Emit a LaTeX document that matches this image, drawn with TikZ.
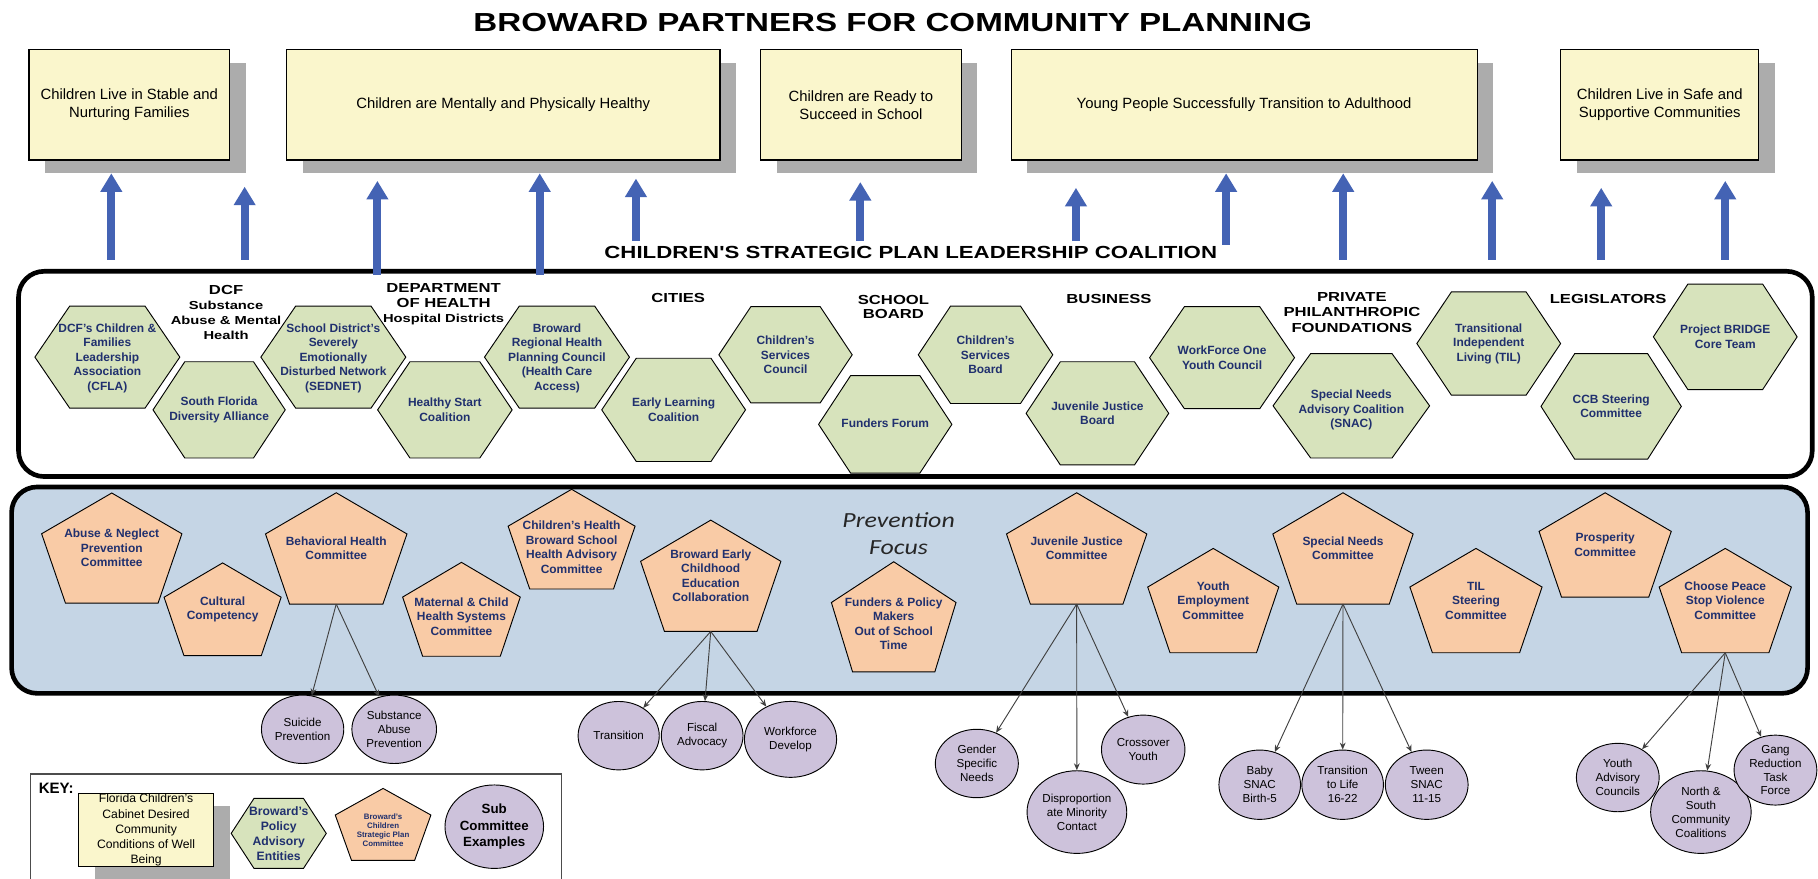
\documentclass[tikz,border=0pt]{standalone}
\usepackage{fontspec}
\setmainfont{Liberation Sans}
\newfontfamily\widefont[FakeStretch=1.27]{Liberation Sans}
\newfontfamily\focusfont[FakeStretch=1.2]{Carlito}
\usetikzlibrary{shapes.geometric,arrows.meta,shadows}
\definecolor{goalyellow}{RGB}{250,246,204}
\definecolor{shadowgray}{RGB}{172,172,172}
\definecolor{arrowblue}{RGB}{68,99,180}
\definecolor{hexgreen}{RGB}{215,227,188}
\definecolor{pentorange}{RGB}{249,203,166}
\definecolor{subviolet}{RGB}{205,194,219}
\definecolor{prevblue}{RGB}{197,213,229}
\definecolor{navy}{RGB}{32,48,110}
\tikzset{
 goal/.style={draw=black, line width=0.9pt, fill=goalyellow, inner sep=0pt, align=center,
   font=\fontsize{12.8}{15.5}\selectfont,
   drop shadow={shadow xshift=14pt, shadow yshift=-11pt, fill=shadowgray, opacity=1}},
 uparrow/.style={draw=arrowblue, line width=7pt, -{Triangle[length=16pt 0,width=18pt 0]}},
 bigframe/.style={draw=black, line width=4pt, rounded corners=22pt, inner sep=0pt},
 hexfill/.style={draw=black, line width=0.8pt, fill=hexgreen},
 htext/.style={text=navy, font=\bfseries\fontsize{10.3}{12.6}\selectfont, align=center, inner sep=0pt},
 hdr/.style={font=\widefont\bfseries\fontsize{11.3}{13}\selectfont, align=center, inner sep=0pt},
 pentfill/.style={draw=black, line width=0.8pt, fill=pentorange},
 ptext/.style={text=navy, font=\bfseries\fontsize{10.3}{12.5}\selectfont, align=center, inner sep=0pt},
 sub/.style={ellipse, draw=black, line width=0.8pt, fill=subviolet, inner sep=-4pt, align=center,
   font=\fontsize{10}{12}\selectfont},
 conn/.style={draw=black!75, line width=0.8pt, -{Stealth[length=6pt 0,width=5pt 0]}},
}
% #1 extra text style, #2 name, #3 cx, #4 cy, #5 w, #6 h, #7 text dy, #8 text
\newcommand\myhex[8][]{%
  \path[hexfill] ({#3-#5/2},{#4}) -- ({#3-0.26*#5},{#4-#6/2}) -- ({#3+0.26*#5},{#4-#6/2})
    -- ({#3+#5/2},{#4}) -- ({#3+0.26*#5},{#4+#6/2}) -- ({#3-0.26*#5},{#4+#6/2}) -- cycle;
  \node[htext,#1] (#2) at ({#3},{#4+#7}) {#8};}
\newcommand\mypent[8][]{%
  \path[pentfill] ({#3},{#4-#6/2}) -- ({#3+#5/2},{#4-0.13*#6}) -- ({#3+0.33*#5},{#4+#6/2})
    -- ({#3-0.33*#5},{#4+#6/2}) -- ({#3-#5/2},{#4-0.13*#6}) -- cycle;
  \coordinate (#2-s) at ({#3},{#4+#6/2});
  \node[ptext,#1] (#2) at ({#3},{#4+#7}) {#8};}
\begin{document}
\begin{tikzpicture}[x=1pt,y=-1pt]
\useasboundingbox (0,0) rectangle (1568,758);
\fill[white] (0,0) rectangle (1568,758);

\node[font=\widefont\bfseries\fontsize{22.5}{25}\selectfont, inner sep=0pt] (title) at (770,19.4)
  {BROWARD PARTNERS FOR COMMUNITY PLANNING};

% goal boxes
\node[goal, minimum width=173, minimum height=95] (g1) at (111.5,90.5) {Children Live in Stable and\\Nurturing Families};
\node[goal, minimum width=374, minimum height=95] (g2) at (434,90.5) {Children are Mentally and Physically Healthy};
\node[goal, minimum width=173, minimum height=95] (g3) at (742.5,90.5) {Children are Ready to\\Succeed in School};
\node[goal, minimum width=402, minimum height=95] (g4) at (1073,90.5) {Young People Successfully Transition to Adulthood};
\node[goal, minimum width=171, minimum height=95] (g5) at (1431.5,90.5) {Children Live in Safe and\\Supportive Communities};

% coalition frame
\node[bigframe, fill=white, minimum width=1547, minimum height=177] (coal) at (789.5,322.5) {};

% arrows
\foreach \i/\x/\yb/\yt in {1/96/224/149.5, 2/211/224/161, 3/325.5/237/156, 4/465.5/237/149.5,
  5/548.5/208/154, 6/742/208/157, 7/928/208/162, 8/1057.5/211/149.5, 9/1158.5/224/149.5,
  10/1287/224/156, 11/1381/224/162, 12/1488/224/156} {
  \coordinate (ab\i) at (\x,\yb);
  \coordinate (at\i) at (\x,\yt);
  \draw[uparrow] (ab\i) -- (at\i);
}

\node[font=\widefont\bfseries\fontsize{15.1}{17}\selectfont, inner sep=0pt] (cslc) at (785.5,217.8)
  {CHILDREN'S STRATEGIC PLAN LEADERSHIP COALITION};

% hexagons
\myhex{H1}{92.6}{308}{125}{88}{1}{DCF's Children \&\\Families\\Leadership\\Association\\(CFLA)}
\myhex{H2}{189}{353.5}{114}{83}{0}{South Florida\\Diversity Alliance}
\myhex{H3}{287.5}{308}{125}{88}{1}{School District's\\Severely\\Emotionally\\Disturbed Network\\(SEDNET)}
\myhex{H4}{383.7}{353.5}{116}{83}{0}{Healthy Start\\Coalition}
\myhex{H5}{480.4}{308}{125}{88}{1}{Broward\\Regional Health\\Planning Council\\(Health Care\\Access)}
\myhex{H6}{581}{353.5}{124}{89}{0}{Early Learning\\Coalition}
\myhex{H7}{677.5}{306}{115}{83}{0}{Children's\\Services\\Council}
\myhex{H8}{763.5}{366}{115}{84}{-1}{Funders Forum}
\myhex{H9}{850}{306}{116}{84}{0}{Children's\\Services\\Board}
\myhex{H10}{946.5}{356.5}{123}{89}{0}{Juvenile Justice\\Board}
\myhex{H11}{1054}{308.5}{125}{88}{0}{WorkForce One\\Youth Council}
\myhex{H12}{1165.5}{350}{135}{90}{3.8}{Special Needs\\Advisory Coalition\\(SNAC)}
\myhex{H13}{1284}{296.3}{124}{89}{0}{Transitional\\Independent\\Living (TIL)}
\myhex{H14}{1389.6}{350.5}{121}{91}{0}{CCB Steering\\Committee}
\myhex{H15}{1488}{290.5}{124}{91}{0}{Project BRIDGE\\Core Team}

% group headers
\node[hdr, font=\widefont\bfseries\fontsize{10}{13}\selectfont] (hdcf) at (195,269.5)
  {{\fontsize{11.3}{13}\selectfont DCF}\\Substance\\Abuse \& Mental\\Health};
\node[hdr] (hdoh) at (382.6,262.5)
  {DEPARTMENT\\OF HEALTH\\{\fontsize{10}{13}\selectfont Hospital Districts}};
\node[hdr] (hcity) at (585,257) {CITIES};
\node[hdr, font=\widefont\bfseries\fontsize{11.3}{12}\selectfont] (hsb) at (770.6,265) {SCHOOL\\BOARD};
\node[hdr] (hbus) at (956.5,258) {BUSINESS};
\node[hdr, font=\widefont\bfseries\fontsize{11.3}{13.5}\selectfont] (hppf) at (1166,269.5) {PRIVATE\\PHILANTHROPIC\\FOUNDATIONS};
\node[hdr] (hleg) at (1387,258) {LEGISLATORS};

% prevention frame
\node[bigframe, fill=prevblue, minimum width=1549, minimum height=178] (prev) at (784.5,509) {};

% pentagons
\mypent{P1}{96.4}{472.7}{121}{95}{0}{Abuse \& Neglect\\Prevention\\Committee}
\mypent{P2}{192}{525.5}{101}{80}{0}{Cultural\\Competency}
\mypent{P3}{290}{473}{122}{96}{0}{Behavioral Health\\Committee}
\mypent{P4}{398}{525.5}{101.5}{81}{6}{Maternal \& Child\\Health Systems\\Committee}
\mypent{P5}{493}{465}{109.5}{86}{7}{Children's Health\\Broward School\\Health Advisory\\Committee}
\mypent{P6}{613}{496.6}{121}{96}{0}{Broward Early\\Childhood\\Education\\Collaboration}
\mypent{P7}{770.8}{532}{107.5}{95}{6}{Funders \& Policy\\Makers\\Out of School\\Time}
\mypent{P8}{928.6}{473}{121}{96}{0}{Juvenile Justice\\Committee}
\mypent{P9}{1046.4}{518}{113}{90}{0}{Youth\\Employment\\Committee}
\mypent{P10}{1158.3}{473}{121}{96}{0}{Special Needs\\Committee}
\mypent{P11}{1273}{518}{114}{90}{0}{TIL\\Steering\\Committee}
\mypent{P12}{1384.4}{470}{114}{90}{0}{Prosperity\\Committee}
\mypent{P13}{1488}{518}{114}{90}{0}{Choose Peace\\Stop Violence\\Committee}

\node[font=\focusfont\itshape\fontsize{18.6}{23}\selectfont, align=center, inner sep=0pt, text=black!85] (focus) at (775,460) {Prevention\\Focus};

% sub committees
\node[sub, minimum width=71, minimum height=59] (C1) at (261,629) {Suicide\\Prevention};
\node[sub, minimum width=73, minimum height=59] (C2) at (340,629) {Substance\\Abuse\\Prevention};
\node[sub, minimum width=70, minimum height=59] (C3) at (533.6,634.5) {Transition};
\node[sub, minimum width=70.5, minimum height=59] (C4) at (605.6,634.5) {Fiscal\\Advocacy};
\node[sub, minimum width=79.5, minimum height=65.5] (C5) at (681.8,637.7) {Workforce\\Develop};
\node[sub, minimum width=71.6, minimum height=59] (C6) at (842.5,658.5) {Gender\\Specific\\Needs};
\node[sub, minimum width=86, minimum height=71.3] (C7) at (928.8,700.4) {Disproportion\\ate Minority\\Contact};
\node[sub, minimum width=72, minimum height=59.5] (C8) at (986,646.5) {Crossover\\Youth};
\node[sub, minimum width=70.4, minimum height=59.8] (C9) at (1086.5,676.8) {Baby\\SNAC\\Birth-5};
\node[sub, minimum width=70.4, minimum height=59.8] (C10) at (1158,676.8) {Transition\\to Life\\16-22};
\node[sub, minimum width=71.4, minimum height=59.8] (C11) at (1230.5,676.8) {Tween\\SNAC\\11-15};
\node[sub, minimum width=71.4, minimum height=59] (C12) at (1395.3,670.6) {Youth\\Advisory\\Councils};
\node[sub, minimum width=86.7, minimum height=71.3] (C13) at (1467,700.4) {North \&\\South\\Community\\Coalitions};
\node[sub, minimum width=71.4, minimum height=60.3] (C14) at (1531.3,664.2) {Gang\\Reduction\\Task\\Force};

\foreach \p/\c in {P3/C1,P3/C2,P6/C3,P6/C4,P6/C5,P8/C6,P8/C7,P8/C8,P10/C9,P10/C10,P10/C11,P13/C12,P13/C13,P13/C14}
  \draw[conn] (\p-s) -- (\c);

% key
\node[draw=black!70, line width=1pt, minimum width=458.4, minimum height=100, inner sep=0pt, anchor=north west] (key) at (25.6,667) {};
\node[font=\bfseries\fontsize{13}{15}\selectfont, inner sep=0pt] (keylbl) at (48.5,680) {KEY:};
\node[goal, minimum width=116, minimum height=63.5, font=\fontsize{10.5}{13}\selectfont] (kgoal) at (126,715.8)
  {Florida Children's\\Cabinet Desired\\Community\\Conditions of Well\\Being};
\myhex[font=\bfseries\fontsize{10.5}{13}\selectfont]{khex}{240.4}{718.8}{82}{60.4}{0}{Broward's\\Policy\\Advisory\\Entities}
\mypent[font=\bfseries\fontsize{6.8}{7.6}\selectfont]{kpent}{330.4}{711}{82.5}{62}{5}{Broward's\\Children\\Strategic Plan\\Committee}
\node[sub, minimum width=85, minimum height=72, font=\bfseries\fontsize{11.5}{14}\selectfont] (ksub) at (426.3,713) {Sub\\Committee\\Examples};
\end{tikzpicture}
\end{document}
